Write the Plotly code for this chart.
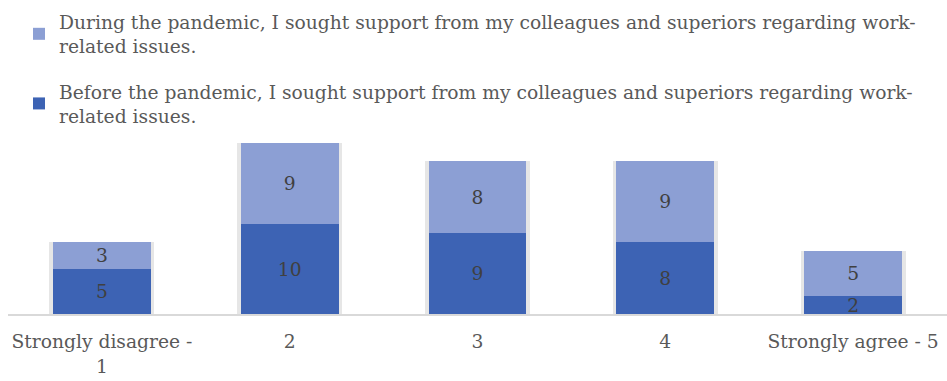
import plotly.graph_objects as go

categories = ["Strongly disagree -<br>1", "2", "3", "4", "Strongly agree - 5"]
before = [5, 10, 9, 8, 2]
during = [3, 9, 8, 9, 5]
totals = [b + d for b, d in zip(before, during)]

name_during = ("During the pandemic, I sought support from my colleagues and superiors regarding work-"
               "<br>related issues.")
name_before = ("Before the pandemic, I sought support from my colleagues and superiors regarding work-"
               "<br>related issues.")

FONT = "DejaVu Serif"
SIZE = 18.7
fig = go.Figure()

# soft grey halo behind each stacked column (base axis, drawn first)
fig.add_trace(go.Bar(
    x=categories, y=totals, width=0.56,
    marker=dict(color="#e6e6e6", line=dict(width=0)),
    showlegend=False, hoverinfo="skip",
))

# stacked columns on an overlaying axis so they sit above the halo
common = dict(
    xaxis="x2", width=0.52, textposition="inside", insidetextanchor="middle",
    textangle=0, constraintext="none", cliponaxis=False,
    textfont=dict(family=FONT, size=SIZE, color="#404040"),
)
fig.add_trace(go.Bar(
    x=categories, y=before, name=name_before, legendgroup="b", legendrank=2,
    text=before, marker=dict(color="#3d63b4", line=dict(width=0)), **common,
))
fig.add_trace(go.Bar(
    x=categories, y=during, name=name_during, legendgroup="d", legendrank=1,
    text=during, marker=dict(color="#8c9fd4", line=dict(width=0)), **common,
))

fig.update_layout(
    width=947, height=381,
    margin=dict(l=8, r=0, t=134, b=67, autoexpand=False),
    barmode="stack",
    plot_bgcolor="white", paper_bgcolor="white",
    font=dict(family=FONT, size=SIZE, color="#595959"),
    showlegend=True,
    legend=dict(
        xref="container", yref="container", x=19 / 947, y=1 - 3 / 381,
        xanchor="left", yanchor="top",
        traceorder="grouped", tracegroupgap=18,
        font=dict(family=FONT, size=SIZE, color="#595959"),
        bgcolor="rgba(0,0,0,0)", itemwidth=30,
    ),
    xaxis=dict(
        showgrid=False, showline=True, linecolor="#d9d9d9", linewidth=2,
        ticks="", tickfont=dict(family=FONT, size=SIZE, color="#595959"),
        tickangle=0, ticklabelstandoff=10, fixedrange=True,
    ),
    xaxis2=dict(overlaying="x", matches="x", visible=False),
    yaxis=dict(range=[0, 20], visible=False, showgrid=False, fixedrange=True),
    uniformtext=dict(mode="show", minsize=10),
)

fig.write_html("out.html")
